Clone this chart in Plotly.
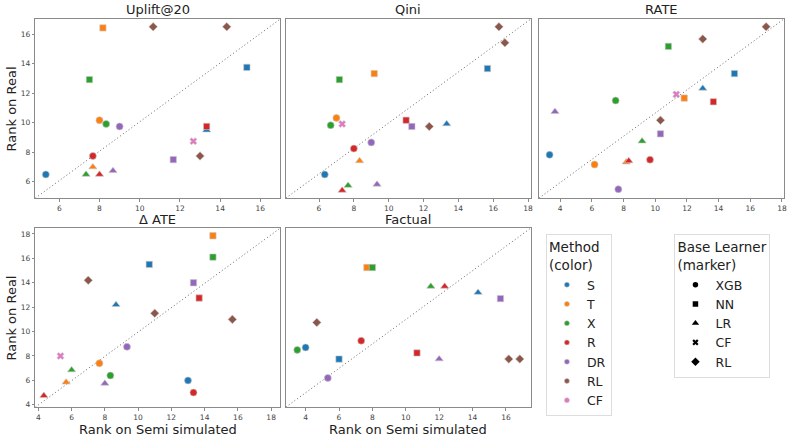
import plotly.graph_objects as go

# ---------------- data ----------------
methods = ["S", "T", "X", "R", "DR", "RL", "CF"]
method_colors = ["#1f77b4", "#ff7f0e", "#2ca02c", "#d62728", "#9467bd", "#8c564b", "#e377c2"]
learners = ["XGB", "NN", "LR", "CF", "RL"]
learner_symbols = ["circle", "square", "triangle-up", "x", "diamond"]

# one entry per (method, base learner) combination
point_method = ["S", "S", "S", "T", "T", "T", "X", "X", "X", "R", "R", "R",
                "DR", "DR", "DR", "RL", "RL", "RL", "CF"]
point_learner = ["XGB", "NN", "LR", "XGB", "NN", "LR", "XGB", "NN", "LR", "XGB", "NN", "LR",
                 "XGB", "NN", "LR", "RL", "RL", "RL", "CF"]

panel_titles = ["Uplift@20", "Qini", "RATE", "Δ ATE", "Factual"]

uplift_x = [5.33, 15.33, 13.33, 8.0, 8.17, 7.67, 8.33, 7.5, 7.33, 7.67, 13.33, 8.0,
            9.0, 11.67, 8.67, 10.67, 14.33, 13.0, 12.67]
uplift_y = [6.5, 13.75, 9.5, 10.17, 16.42, 7.0, 9.92, 12.92, 6.5, 7.75, 9.75, 6.5,
            9.75, 7.5, 6.75, 16.5, 16.5, 7.75, 8.75]

qini_x = [6.33, 15.67, 13.33, 7.0, 9.17, 8.33, 6.67, 7.17, 7.67, 8.0, 11.0, 7.33,
          9.0, 11.33, 9.33, 16.33, 16.67, 12.33, 7.33]
qini_y = [6.5, 13.67, 9.92, 10.33, 13.33, 7.42, 9.83, 12.92, 5.75, 8.25, 10.17, 5.42,
          8.67, 9.75, 5.83, 16.5, 15.42, 9.75, 9.92]

rate_x = [3.33, 15.0, 13.0, 6.17, 11.83, 8.17, 7.5, 10.83, 9.17, 9.67, 13.67, 8.33,
          7.67, 10.33, 3.67, 17.0, 13.0, 10.33, 11.33]
rate_y = [7.83, 13.33, 12.33, 7.17, 11.67, 7.33, 11.5, 15.17, 8.75, 7.5, 11.42, 7.42,
          5.5, 9.25, 10.75, 16.5, 15.67, 10.17, 11.92]

ate_x = [13.0, 10.67, 8.67, 7.67, 14.5, 5.67, 8.33, 14.5, 6.0, 13.33, 13.67, 4.33,
         9.33, 13.33, 8.0, 7.0, 11.0, 15.67, 5.33]
ate_y = [6.0, 15.5, 12.2, 7.4, 17.85, 5.85, 6.4, 16.1, 6.85, 5.0, 12.75, 4.75,
         8.75, 14.0, 5.75, 14.2, 11.5, 11.0, 8.0]

fact_x = [4.0, 6.0, 14.33, None, 7.67, None, 3.5, 8.0, 11.5, 7.33, 10.67, 12.33,
          5.33, 15.67, 12.0, 4.67, 16.17, 16.83, None]
fact_y = [8.7, 7.75, 13.2, None, 15.25, None, 8.5, 15.25, 13.7, 9.25, 8.25, 13.7,
          6.2, 12.7, 7.75, 10.75, 7.75, 7.75, None]

panel_x = [uplift_x, qini_x, rate_x, ate_x, fact_x]
panel_y = [uplift_y, qini_y, rate_y, ate_y, fact_y]

x_ranges = [[4.81, 17.0], [4.1, 18.17], [2.66, 18.13], [3.82, 18.56], [2.82, 17.5]]
y_ranges = [[4.9, 17.03], [4.9, 17.03], [4.9, 17.03], [3.81, 18.49], [3.81, 18.49]]

# ---------------- layout geometry (pixels) ----------------
W, H = 796, 440
px_x = [(35.5, 281.5), (287, 533), (541, 787), (35.5, 281.5), (287, 533)]
px_y = [(19, 199), (19, 199), (19, 199), (229, 409), (229, 409)]
title_cy = [10, 10, 10, 221, 221]

def fx(p):
    return p / W

def fy(p):
    return 1 - p / H

FONT = "DejaVu Sans"
color_of = dict(zip(methods, method_colors))
symbol_of = dict(zip(learners, learner_symbols))
size_of = {"XGB": 7, "NN": 6.3, "LR": 7.2, "CF": 6.3, "RL": 6.6}

fig = go.Figure()
layout = dict(
    width=W, height=H, margin=dict(l=0, r=0, t=0, b=0),
    paper_bgcolor="white", plot_bgcolor="white",
    font=dict(family=FONT, color="#222"),
    showlegend=True,
)

annotations = []
shapes = []
for i in range(5):
    ax = "" if i == 0 else str(i + 1)
    xa, ya = "xaxis" + ax, "yaxis" + ax
    show_y = i in (0, 3)
    layout[xa] = dict(
        domain=[fx(px_x[i][0]), fx(px_x[i][1])], anchor="y" + ax, range=x_ranges[i],
        dtick=2, showline=True, mirror=True, linecolor="#8a8a8a", linewidth=1.3,
        ticks="outside", ticklen=2.5, tickcolor="#8a8a8a", tickwidth=0.8,
        tickfont=dict(size=7.5, color="#444", family=FONT),
        showgrid=False, zeroline=False,
    )
    layout[ya] = dict(
        domain=[fy(px_y[i][1]), fy(px_y[i][0])], anchor="x" + ax, range=y_ranges[i],
        dtick=2, showline=True, mirror=True, linecolor="#8a8a8a", linewidth=1.3,
        ticks="outside" if show_y else "", ticklen=2.5, tickcolor="#8a8a8a", tickwidth=0.8,
        showticklabels=show_y,
        tickfont=dict(size=7.5, color="#444", family=FONT),
        showgrid=False, zeroline=False,
    )
    # diagonal reference line (axes corner to corner)
    shapes.append(dict(type="line", xref="x" + ax + " domain", yref="y" + ax + " domain",
                       x0=0, y0=0, x1=1, y1=1,
                       line=dict(color="#666", width=1.0, dash="1px,2.5px"), layer="below"))
    # panel title
    annotations.append(dict(text=panel_titles[i], xref="paper", yref="paper",
                            x=fx((px_x[i][0] + px_x[i][1]) / 2), y=fy(title_cy[i]),
                            xanchor="center", yanchor="middle", showarrow=False,
                            font=dict(size=13, color="#222", family=FONT)))
    # markers grouped by method
    xs = panel_x[i]
    ys = panel_y[i]
    for m in methods:
        idx = [k for k in range(len(point_method)) if point_method[k] == m and xs[k] is not None]
        if not idx:
            continue
        fig.add_trace(go.Scatter(
            x=[xs[k] for k in idx], y=[ys[k] for k in idx], mode="markers",
            xaxis="x" + ax, yaxis="y" + ax, showlegend=False, hoverinfo="skip",
            marker=dict(color=color_of[m], opacity=1,
                        symbol=[symbol_of[point_learner[k]] for k in idx],
                        size=[size_of[point_learner[k]] for k in idx],
                        line=dict(color="rgba(200,200,200,1)", width=0.6)),
        ))

# axis labels
for cy in [(19 + 199) / 2, (229 + 409) / 2]:
    annotations.append(dict(text="Rank on Real", xref="paper", yref="paper",
                            x=fx(12), y=fy(cy), textangle=-90, showarrow=False,
                            xanchor="center", yanchor="middle",
                            font=dict(size=13, color="#222", family=FONT)))
for i in (3, 4):
    annotations.append(dict(text="Rank on Semi simulated", xref="paper", yref="paper",
                            x=fx((px_x[i][0] + px_x[i][1]) / 2), y=fy(431),
                            xanchor="center", yanchor="middle", showarrow=False,
                            borderpad=0,
                            font=dict(size=13, color="#222", family=FONT)))

# legend entries
for m, c in zip(methods, method_colors):
    fig.add_trace(go.Scatter(x=[None], y=[None], mode="markers", name=m, legend="legend",
                             marker=dict(color=c, size=5, symbol="circle", opacity=1,
                                         line=dict(color="rgba(200,200,200,1)", width=0.5))))
legend_sizes = [5.5, 5.5, 6.5, 5.5, 6.5]
for l, s, sz in zip(learners, learner_symbols, legend_sizes):
    fig.add_trace(go.Scatter(x=[None], y=[None], mode="markers", name=l, legend="legend2",
                             marker=dict(color="black", size=sz, symbol=s, opacity=1)))

legend_common = dict(xanchor="left", yanchor="top", bgcolor="white", bordercolor="#dddddd",
                     borderwidth=1, font=dict(size=12.5, color="#222", family=FONT),
                     tracegroupgap=0, itemclick=False, itemdoubleclick=False)
layout["legend"] = dict(x=fx(548), y=fy(235),
                        title=dict(text="Method<br>(color)", font=dict(size=13.5, family=FONT)),
                        **legend_common)
layout["legend2"] = dict(x=fx(677), y=fy(235),
                         title=dict(text="Base Learner<br>(marker)", font=dict(size=13.5, family=FONT)),
                         **legend_common)
layout["annotations"] = annotations
layout["shapes"] = shapes
fig.update_layout(**layout)
fig.write_html("out.html")
